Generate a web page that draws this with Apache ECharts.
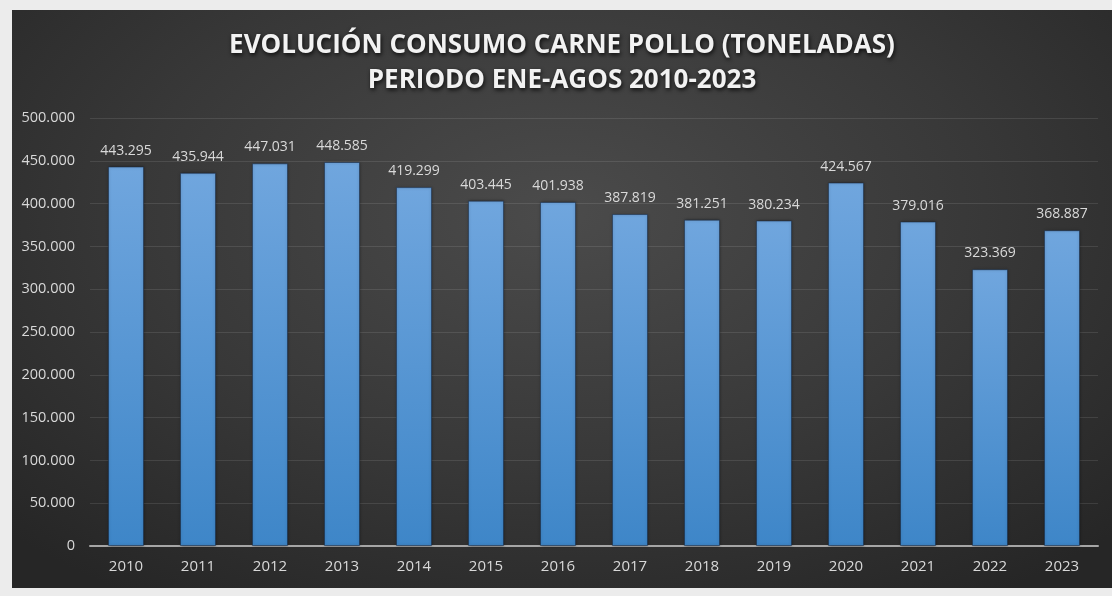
<!DOCTYPE html>
<html>
<head>
<meta charset="utf-8">
<script src="https://cdn.jsdelivr.net/npm/echarts@6/dist/echarts.min.js"></script>
<style>
  html, body { margin: 0; padding: 0; background: #ececec; }
  #chart {
    position: absolute; left: 12px; top: 10px; width: 1100px; height: 578px;
    background: radial-gradient(ellipse 70% 80% at 50% 35%, #4b4b4b 0%, #383838 55%, #262626 100%);
  }
</style>
</head>
<body>
<div id="chart"></div>
<script>
const years = ['2010', '2011', '2012', '2013', '2014', '2015', '2016', '2017', '2018', '2019', '2020', '2021', '2022', '2023']
const tons = [443295, 435944, 447031, 448585, 419299, 403445, 401938, 387819, 381251, 380234, 424567, 379016, 323369, 368887]

const fmt = v => String(v).replace(/\B(?=(\d{3})+(?!\d))/g, '.')

const chart = echarts.init(document.getElementById('chart'))
chart.setOption({
  backgroundColor: 'transparent',
  animation: false,
  title: {
    text: 'EVOLUCIÓN CONSUMO CARNE POLLO (TONELADAS)\nPERIODO ENE-AGOS 2010-2023',
    left: 'center',
    top: 13,
    textStyle: {
      color: '#f2f2f2',
      fontFamily: 'Open Sans',
      fontWeight: 'bold',
      fontSize: 26,
      lineHeight: 35,
      textShadowColor: 'rgba(0,0,0,0.8)',
      textShadowBlur: 4,
      textShadowOffsetX: 1,
      textShadowOffsetY: 2
    }
  },
  grid: { left: 78, right: 14, top: 108, bottom: 42 },
  xAxis: {
    type: 'category',
    data: years,
    axisLine: { lineStyle: { color: '#a6a6a6', width: 2 } },
    axisTick: { show: false },
    axisLabel: { color: '#d9d9d9', fontSize: 15, fontFamily: 'Open Sans', margin: 13 }
  },
  yAxis: {
    type: 'value',
    min: 0,
    max: 500000,
    interval: 50000,
    axisLine: { show: false },
    axisTick: { show: false },
    axisLabel: { color: '#d9d9d9', fontSize: 14.5, fontFamily: 'Open Sans', margin: 15, formatter: fmt },
    splitLine: { lineStyle: { color: 'rgba(255,255,255,0.1)', width: 1 } }
  },
  series: [
    {
      type: 'bar',
      data: tons,
      barWidth: '50%',
      itemStyle: {
        color: new echarts.graphic.LinearGradient(0, 0, 0, 1, [
          { offset: 0, color: '#70a6de' },
          { offset: 1, color: '#3e86c8' }
        ]),
        borderColor: 'rgba(20,40,70,0.5)',
        borderWidth: 1,
        shadowColor: 'rgba(0,0,0,0.4)',
        shadowBlur: 3
      },
      label: {
        show: true,
        position: 'top',
        distance: 9,
        color: '#d9d9d9',
        fontSize: 14,
        fontFamily: 'Open Sans',
        formatter: p => fmt(p.value)
      }
    }
  ]
})
</script>
</body>
</html>
